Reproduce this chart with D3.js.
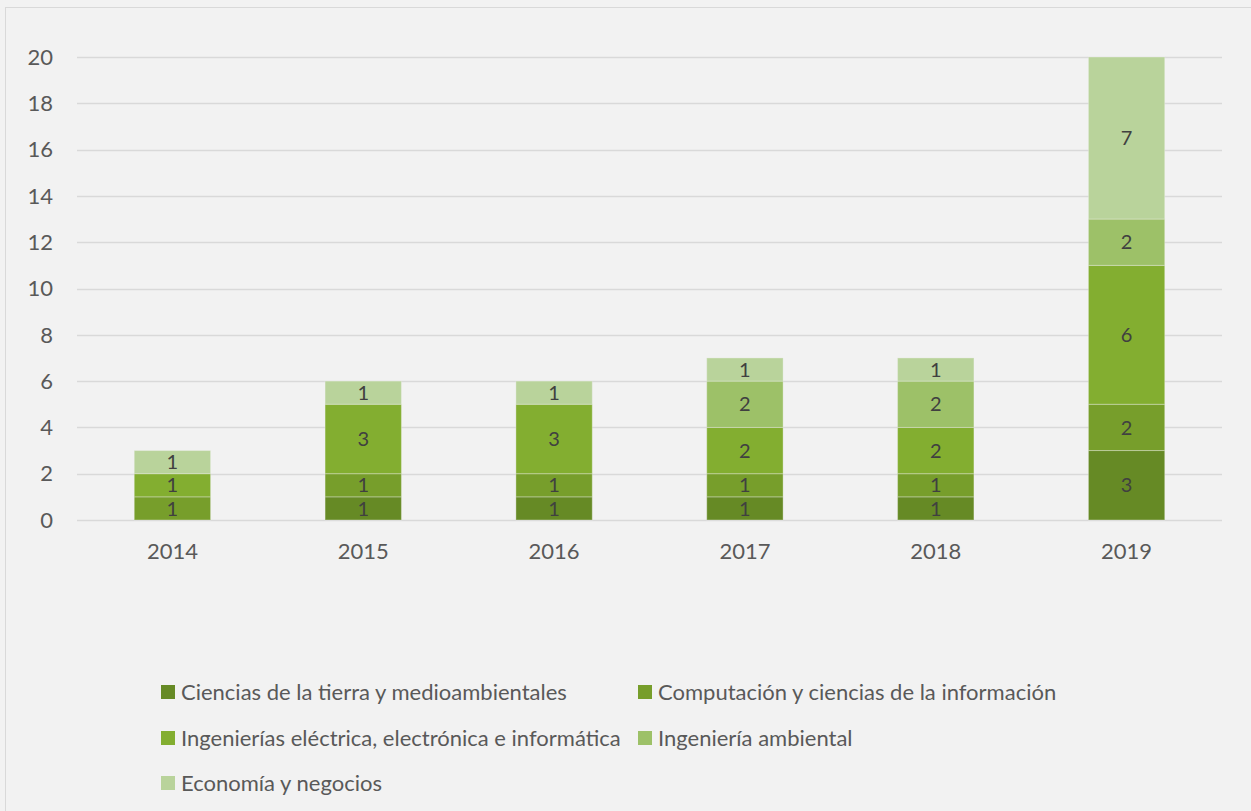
<!DOCTYPE html>
<html>
<head>
<meta charset="utf-8">
<script src="https://cdn.jsdelivr.net/npm/d3@7"></script>
<style>
  body { margin: 0; background: #f2f2f2; }
  text { font-family: Lato, "Open Sans", sans-serif; }
</style>
</head>
<body>
<script>
var w = 1251,
  h = 811;

var years = ['2014', '2015', '2016', '2017', '2018', '2019'];
var categories = [
  'Ciencias de la tierra y medioambientales',
  'Computación y ciencias de la información',
  'Ingenierías eléctrica, electrónica e informática',
  'Ingeniería ambiental',
  'Economía y negocios'
];
var ciencias = [0, 1, 1, 1, 1, 3];
var computacion = [1, 1, 1, 1, 1, 2];
var ingenierias = [1, 3, 3, 2, 2, 6];
var ambiental = [0, 0, 0, 2, 2, 2];
var economia = [1, 1, 1, 1, 1, 7];
var yTicks = [0, 2, 4, 6, 8, 10, 12, 14, 16, 18, 20];
var colors = ['#668a25', '#779e2b', '#83ae30', '#9dc168', '#b9d39b'];

var series = [ciencias, computacion, ingenierias, ambiental, economia];
var rows = years.map(function (y, i) {
  var r = { year: y };
  categories.forEach(function (c, k) { r[c] = series[k][i]; });
  return r;
});

var fs = 22;

var svg = d3.select('body').append('svg')
  .attr('width', w)
  .attr('height', h);

svg.append('rect')
  .attr('x', 5.5).attr('y', 7.5)
  .attr('width', w).attr('height', h)
  .attr('fill', '#f2f2f2')
  .attr('stroke', '#d9d9d9');

var x = d3.scaleBand()
  .domain(years)
  .range([77, 1222])
  .paddingInner(0.6)
  .paddingOuter(0.3);

var y = d3.scaleLinear()
  .domain([0, 20])
  .range([520, 57]);

// gridlines
svg.append('g').selectAll('line')
  .data(yTicks)
  .enter().append('line')
  .attr('x1', 77).attr('x2', 1222)
  .attr('y1', function (d) { return Math.round(y(d)) + 0.5; })
  .attr('y2', function (d) { return Math.round(y(d)) + 0.5; })
  .attr('stroke', '#d9d9d9')
  .attr('stroke-width', 1.5);

svg.append('g').selectAll('text')
  .data(yTicks)
  .enter().append('text')
  .attr('x', 53)
  .attr('y', function (d) { return y(d); })
  .attr('dy', '0.35em')
  .attr('text-anchor', 'end')
  .attr('font-size', fs)
  .attr('fill', '#595959')
  .text(function (d) { return d; });

var stack = d3.stack().keys(categories);
var stacked = stack(rows);

var layers = svg.selectAll('g.layer')
  .data(stacked)
  .enter().append('g')
  .attr('class', 'layer')
  .attr('fill', function (d, i) { return colors[i]; });

layers.selectAll('rect')
  .data(function (d) { return d.filter(function (p) { return p[1] > p[0]; }); })
  .enter().append('rect')
  .attr('x', function (d) { return x(d.data.year); })
  .attr('width', x.bandwidth())
  .attr('y', function (d) { return y(d[1]); })
  .attr('height', function (d) { return y(d[0]) - y(d[1]); })
  .attr('stroke', '#f2f2f2')
  .attr('stroke-opacity', 0.35)
  .attr('stroke-width', 1);

layers.selectAll('text')
  .data(function (d) { return d.filter(function (p) { return p[1] > p[0]; }); })
  .enter().append('text')
  .attr('x', function (d) { return x(d.data.year) + x.bandwidth() / 2; })
  .attr('y', function (d) { return (y(d[0]) + y(d[1])) / 2; })
  .attr('dy', '0.36em')
  .attr('text-anchor', 'middle')
  .attr('font-size', 20)
  .attr('fill', '#404040')
  .text(function (d) { return d[1] - d[0]; });

svg.append('g').selectAll('text')
  .data(years)
  .enter().append('text')
  .attr('x', function (d) { return x(d) + x.bandwidth() / 2; })
  .attr('y', 551)
  .attr('dy', '0.35em')
  .attr('text-anchor', 'middle')
  .attr('font-size', fs)
  .attr('fill', '#595959')
  .text(function (d) { return d; });

// Legend
var legendPos = [[161, 692], [638, 692], [161, 738], [638, 738], [161, 783]];
var legend = svg.selectAll('g.legend')
  .data(categories)
  .enter().append('g')
  .attr('class', 'legend')
  .attr('transform', function (d, i) { return 'translate(' + legendPos[i] + ')'; });

legend.append('rect')
  .attr('x', 0).attr('y', -7)
  .attr('width', 14).attr('height', 14)
  .attr('fill', function (d, i) { return colors[i]; });

legend.append('text')
  .attr('x', 20)
  .attr('dy', '0.35em')
  .attr('font-size', fs)
  .attr('fill', '#595959')
  .text(function (d) { return d; });
</script>
</body>
</html>
